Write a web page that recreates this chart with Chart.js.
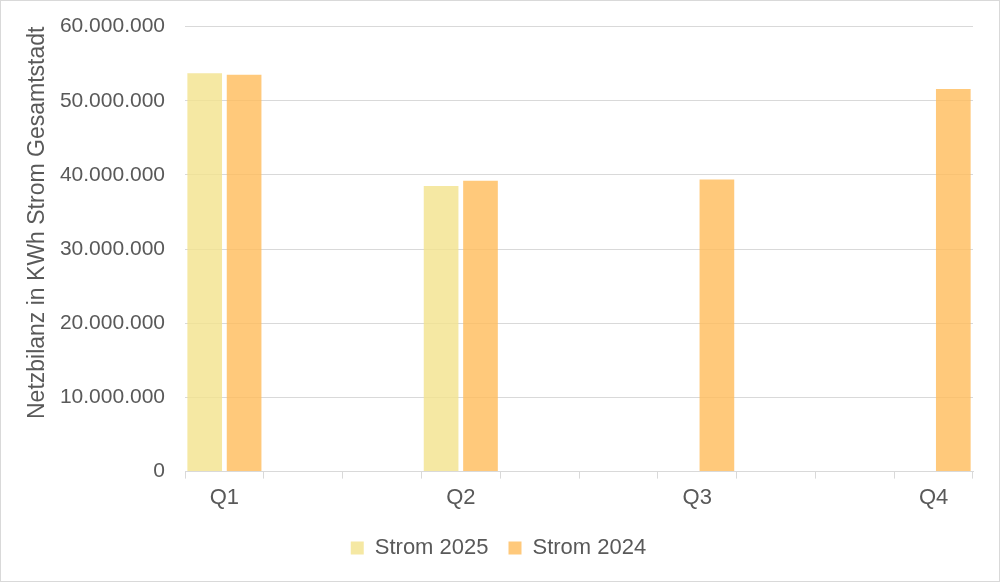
<!DOCTYPE html>
<html>
<head>
<meta charset="utf-8">
<script src="https://cdn.jsdelivr.net/npm/chart.js@4/dist/chart.umd.min.js"></script>
<style>
  html, body { margin: 0; padding: 0; background: #fff; }
  #wrap { width: 1000px; height: 582px; box-sizing: border-box; border: 1px solid #d9d9d9; position: relative; }
</style>
</head>
<body>
<div id="wrap"><canvas id="chart"></canvas></div>
<script>
// Category slots: the quarters sit on every third slot, the rest stay empty
const categories = ['Q1', '', '', 'Q2', '', '', 'Q3', '', '', 'Q4'];
const strom2025 = [53700000, null, null, 38500000, null, null, null, null, null, null];
const strom2024 = [53500000, null, null, 39200000, null, null, 39400000, null, null, 51600000];
const yTicks = [0, 10000000, 20000000, 30000000, 40000000, 50000000, 60000000];

const textColor = '#595959';
const gridColor = '#d9d9d9';
const fontFamily = "'Liberation Sans', Arial, sans-serif";

// German thousands separator
function formatDe(v) {
  return String(Math.round(v)).replace(/\B(?=(\d{3})+(?!\d))/g, '.');
}

new Chart(document.getElementById('chart').getContext('2d'), {
  type: 'bar',
  data: {
    labels: categories,
    datasets: [
      {
        label: 'Strom 2025',
        data: strom2025,
        backgroundColor: 'rgba(242, 226, 140, 0.8)',
        borderWidth: 0
      },
      {
        label: 'Strom 2024',
        data: strom2024,
        backgroundColor: 'rgba(255, 187, 90, 0.8)',
        borderWidth: 0
      }
    ]
  },
  options: {
    responsive: true,
    maintainAspectRatio: false,
    animation: false,
    layout: { padding: { top: 0, right: 26, left: 23, bottom: 12 } },
    datasets: {
      bar: { categoryPercentage: 1.0, barPercentage: 0.88 }
    },
    plugins: {
      legend: {
        position: 'bottom',
        labels: {
          boxWidth: 13,
          boxHeight: 13,
          padding: 20,
          color: textColor,
          font: { family: fontFamily, size: 22 }
        }
      },
      tooltip: { enabled: false }
    },
    scales: {
      x: {
        grid: {
          display: true,
          drawOnChartArea: false,
          drawTicks: true,
          tickLength: 7,
          color: gridColor,
          offset: true
        },
        border: { display: true, color: gridColor },
        ticks: {
          autoSkip: false,
          maxRotation: 0,
          padding: 6,
          color: textColor,
          font: { family: fontFamily, size: 22 }
        }
      },
      y: {
        min: 0,
        max: 60000000,
        afterBuildTicks: axis => { axis.ticks = yTicks.map(v => ({ value: v })); },
        afterFit: axis => { axis.width = 161; },
        grid: { color: gridColor, drawTicks: true, tickLength: 7, tickColor: 'rgba(0,0,0,0)' },
        border: { display: false },
        ticks: {
          padding: 13,
          color: textColor,
          font: { family: fontFamily, size: 21 },
          callback: v => formatDe(v)
        },
        title: {
          display: true,
          text: 'Netzbilanz in KWh Strom Gesamtstadt',
          align: 'end',
          color: textColor,
          font: { family: fontFamily, size: 23 },
          padding: { top: 0, bottom: 4 }
        }
      }
    }
  }
});
</script>
</body>
</html>
